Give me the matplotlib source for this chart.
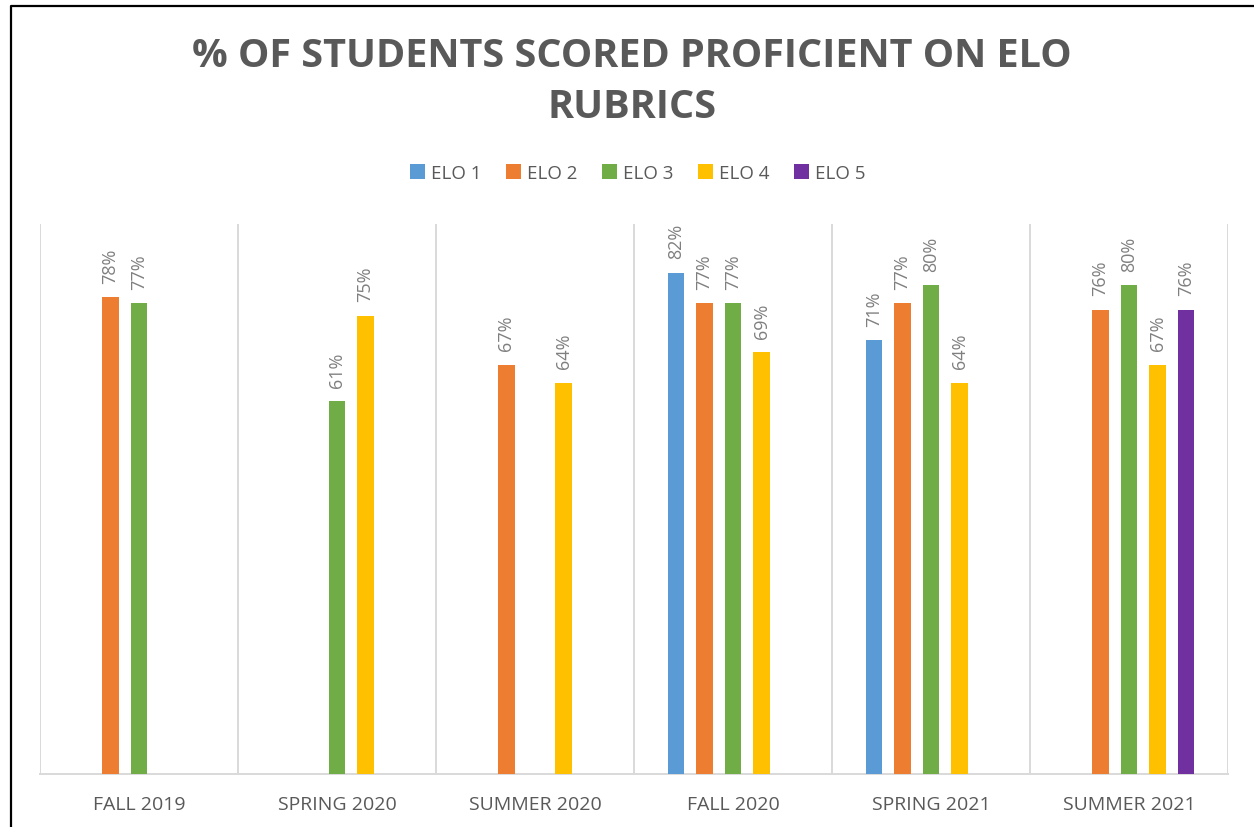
import matplotlib
matplotlib.use("Agg")
import matplotlib.pyplot as plt
import numpy as np
from matplotlib.patches import Patch
from matplotlib.lines import Line2D

categories = ["FALL 2019", "SPRING 2020", "SUMMER 2020", "FALL 2020", "SPRING 2021", "SUMMER 2021"]
series_names = ["ELO 1", "ELO 2", "ELO 3", "ELO 4", "ELO 5"]
elo1 = [None, None, None, 82, 71, None]
elo2 = [78, None, 67, 77, 77, 76]
elo3 = [77, 61, None, 77, 80, 80]
elo4 = [None, 75, 64, 69, 64, 67]
elo5 = [None, None, None, None, None, 76]
series_values = [elo1, elo2, elo3, elo4, elo5]
colors = ["#5B9BD5", "#ED7D31", "#70AD47", "#FFC000", "#7030A0"]
title = "% OF STUDENTS SCORED PROFICIENT ON ELO\nRUBRICS"

W, H = 1254, 828
fig = plt.figure(figsize=(W / 100, H / 100), dpi=100)
fig.patch.set_facecolor("white")
ax = fig.add_axes([40 / W, 1 - 775 / H, (1228 - 40) / W, (775 - 225) / H])

font = ["Open Sans", "DejaVu Sans"]
x = np.arange(len(categories))
spacing = 0.144
width = 0.081
for j, (vals, c) in enumerate(zip(series_values, colors)):
    xs = x + (j - 2) * spacing
    v = np.array([np.nan if a is None else a for a in vals], dtype=float)
    ax.bar(xs, v, width=width, color=c, zorder=3)
    for xi, vi in zip(xs, vals):
        if vi is not None:
            ax.annotate(f"{vi}%", (xi, vi), xytext=(0, 10.5), textcoords="offset points",
                        rotation=90, ha="center", va="bottom", fontsize=13,
                        color="#7f7f7f", family=font)

ax.set_xlim(-0.5, len(categories) - 0.5)
ax.set_ylim(0, 90)
ax.set_yticks([])
ax.set_xticks(x)
ax.set_xticklabels(categories, fontsize=14, color="#595959", family=font)
ax.set_xticks(np.arange(-0.5, len(categories)), minor=True)
ax.tick_params(axis="x", which="both", length=0, pad=15)
ax.grid(True, axis="x", which="minor", color="#d9d9d9", lw=1.4, zorder=0)
ax.grid(False, axis="x", which="major")
for s in ["top", "right", "left"]:
    ax.spines[s].set_visible(False)
ax.spines["bottom"].set_color("#d9d9d9")
ax.spines["bottom"].set_linewidth(1.4)

fig.text(632 / W, 1 - 82 / H, title, ha="center", va="center", fontsize=28.5,
         fontweight="bold", color="#595959", family=font, linespacing=1.38)

handles = [Patch(facecolor=c, edgecolor="none", label=n) for n, c in zip(series_names, colors)]
fig.legend(handles=handles, loc="center", bbox_to_anchor=(638 / W, 1 - 174 / H), ncol=5,
           frameon=False, prop={"family": font, "size": 13.5}, labelcolor="#595959",
           handlelength=0.78, handleheight=0.78, handletextpad=0.35, columnspacing=1.3)

fig.add_artist(Line2D([11 / W, 11 / W, 1.0], [0.0, 1 - 7 / H, 1 - 7 / H],
                      transform=fig.transFigure, color="black", lw=1.6))

fig.savefig("out.png", dpi=100)
